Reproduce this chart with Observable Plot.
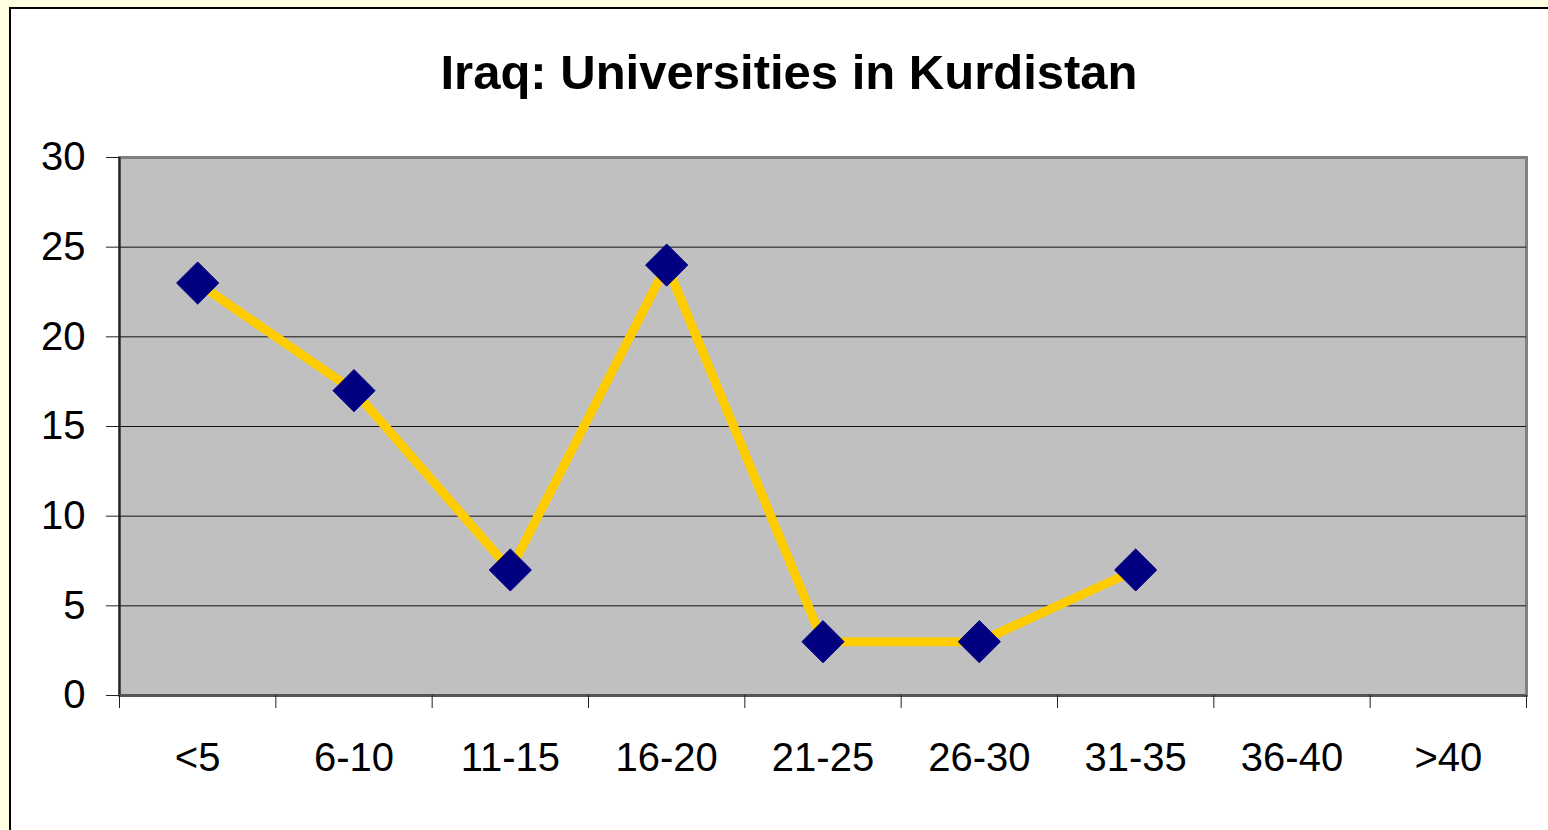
<!DOCTYPE html>
<html>
<head>
<meta charset="utf-8">
<script src="https://cdn.jsdelivr.net/npm/d3@7"></script>
<script src="https://cdn.jsdelivr.net/npm/@observablehq/plot@0.6"></script>
<style>
  html, body { margin: 0; padding: 0; width: 1548px; height: 830px; overflow: hidden; background: #FFFFE1; }
  #panel { position: absolute; left: 9px; top: 7px; width: 1600px; height: 900px; border: 2px solid #000; background: #fff; }
  #title { position: absolute; left: 0; width: 1578px; top: 43px; text-align: center; font-family: "Liberation Sans", Arial, sans-serif; font-weight: bold; font-size: 49px; line-height: 58px; color: #000; }
  #chart { position: absolute; left: 0; top: 100px; }
</style>
</head>
<body>
<div id="panel"></div>
<div id="title">Iraq: Universities in Kurdistan</div>
<div id="chart"></div>
<script>
const categories = ["<5", "6-10", "11-15", "16-20", "21-25", "26-30", "31-35", "36-40", ">40"];
const values = [23, 17, 7, 24, 3, 3, 7, null, null];
const yTicks = [0, 5, 10, 15, 20, 25, 30];

const data = categories.map((c, i) => ({ c, pos: i + 0.5, v: values[i] }));
const points = data.filter(d => d.v != null);
const boundaries = d3.range(categories.length + 1);

const chart = Plot.plot({
  width: 1548,
  height: 730,
  marginTop: 57,
  marginBottom: 135,
  marginLeft: 119,
  marginRight: 22,
  x: { type: "linear", domain: [0, categories.length], axis: null },
  y: { domain: [0, 30], axis: null },
  style: { background: "transparent", fontFamily: "'Liberation Sans', Arial, sans-serif", fontSize: "40px", color: "#000" },
  marks: [
    Plot.frame({ fill: "#C0C0C0", stroke: "#808080", strokeWidth: 3 }),
    Plot.ruleY(yTicks.slice(1, -1), { stroke: "#111", strokeWidth: 1 }),
    Plot.ruleX([0], { stroke: "#222", strokeWidth: 2 }),
    Plot.ruleY([0], { stroke: "#555", strokeWidth: 3 }),
    Plot.axisY({ ticks: yTicks, tickSize: 13, tickPadding: 21, fontSize: 40, stroke: "#222", strokeWidth: 1, label: null }),
    Plot.axisX({ ticks: boundaries, tickSize: 13, tickFormat: () => "", stroke: "#222", strokeWidth: 1, label: null }),
    Plot.text(data, { x: "pos", text: "c", frameAnchor: "bottom", lineAnchor: "middle", dy: 63, fontSize: 40, fill: "#000" }),
    Plot.line(points, { x: "pos", y: "v", stroke: "#FFCC00", strokeWidth: 9 }),
    Plot.dot(points, { x: "pos", y: "v", symbol: "diamond2", r: 19, fill: "#000080", stroke: "#000080", strokeWidth: 1 })
  ]
});
document.getElementById("chart").appendChild(chart);
</script>
</body>
</html>
